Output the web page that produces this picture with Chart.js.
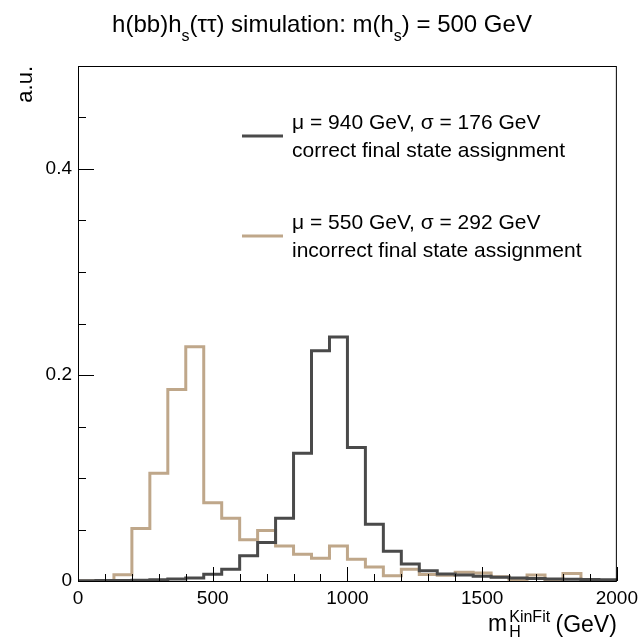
<!DOCTYPE html>
<html>
<head>
<meta charset="utf-8">
<script src="https://cdn.jsdelivr.net/npm/chart.js@4.4.1/dist/chart.umd.min.js"></script>
<style>
  html, body { margin: 0; padding: 0; background: #fff; }
  #wrap { width: 644px; height: 637px; }
</style>
</head>
<body>
<div id="wrap"><canvas id="histChart" width="644" height="637"></canvas></div>
<script>
// histogram binning: 30 bins from 0 to 2000 GeV
const xMin = 0;
const xMax = 2000;
const nBins = 30;

// bin contents (normalised, a.u.)
const correctValues = [
    0.0003, 0.0005, 0.0006, 0.0008, 0.0012, 0.002, 0.003, 0.0065, 0.0115, 0.0245,
    0.0375, 0.061, 0.124, 0.2236, 0.237, 0.1295, 0.055, 0.029, 0.0165, 0.010,
    0.0068, 0.0058, 0.0045, 0.0036, 0.003, 0.0025, 0.002, 0.0018, 0.0015, 0.0012
];
const incorrectValues = [
    0, 0, 0.006, 0.051, 0.1045, 0.186, 0.2275, 0.076, 0.061, 0.040,
    0.049, 0.034, 0.026, 0.022, 0.034, 0.021, 0.0135, 0.005, 0.0115, 0.0062,
    0.0055, 0.0084, 0.0078, 0.0042, 0.0005, 0.0058, 0.001, 0.0074, 0.0005, 0.0003
];

const correctLabel = ["\u03bc = 940 GeV, \u03c3 = 176 GeV", "correct final state assignment"];
const incorrectLabel = ["\u03bc = 550 GeV, \u03c3 = 292 GeV", "incorrect final state assignment"];

const xTickValues = [0, 500, 1000, 1500, 2000];
const xMinorStep = 100;
const yTickValues = [0, 0.2, 0.4];
const yMinorStep = 0.05;
const yMax = 0.5;

const FONT = "'Liberation Sans', Arial, Helvetica, sans-serif";

// turn bin contents into step points (left edges + closing right edge)
function toSteps(values) {
    const width = (xMax - xMin) / nBins;
    const pts = values.map((v, i) => ({ x: xMin + i * width, y: v }));
    pts.push({ x: xMax, y: values[values.length - 1] });
    return pts;
}

// draws frame, inside ticks, legend and rich text (sub/superscripts)
const rootStyle = {
    id: "rootStyle",
    afterDraw(chart) {
        const ctx = chart.ctx;
        const area = chart.chartArea;
        const xs = chart.scales.x;
        const ys = chart.scales.y;
        ctx.save();

        // frame
        ctx.strokeStyle = "#000";
        ctx.lineWidth = 1;
        ctx.strokeRect(area.left + 0.5, area.top + 0.5, area.right - area.left - 1, area.bottom - area.top);

        // ticks inside the frame
        ctx.beginPath();
        for (let v = xMin; v <= xMax + 1e-6; v += xMinorStep) {
            const px = Math.round(xs.getPixelForValue(v)) + 0.5;
            const len = xTickValues.includes(v) ? 14 : 7;
            ctx.moveTo(px, area.bottom);
            ctx.lineTo(px, area.bottom - len);
        }
        for (let k = 0; k * yMinorStep <= yMax + 1e-9; k++) {
            const v = k * yMinorStep;
            const py = Math.round(ys.getPixelForValue(v)) + 0.5;
            const major = yTickValues.some(t => Math.abs(t - v) < 1e-9);
            ctx.moveTo(area.left, py);
            ctx.lineTo(area.left + (major ? 16 : 8), py);
        }
        ctx.stroke();

        // legend
        ctx.fillStyle = "#000";
        ctx.font = "21px " + FONT;
        ctx.textBaseline = "alphabetic";
        ctx.textAlign = "left";
        const legendRows = [
            { ds: chart.data.datasets[0], y: 129 },
            { ds: chart.data.datasets[1], y: 229 }
        ];
        legendRows.forEach(r => {
            ctx.strokeStyle = r.ds.borderColor;
            ctx.lineWidth = 3;
            ctx.beginPath();
            ctx.moveTo(242, r.y + 7);
            ctx.lineTo(283, r.y + 7);
            ctx.stroke();
            ctx.fillText(r.ds.label[0], 292, r.y);
            ctx.fillText(r.ds.label[1], 292, r.y + 28);
        });

        // title with subscripts
        const big = "24px " + FONT;
        const small = "16px " + FONT;
        const parts = [
            ["h(bb)h", 0], ["s", 1], ["(\u03c4\u03c4) simulation: m(h", 0], ["s", 1], [") = 500 GeV", 0]
        ];
        let total = 0;
        parts.forEach(p => { ctx.font = p[1] ? small : big; total += ctx.measureText(p[0]).width; });
        let x = 322 - total / 2;
        parts.forEach(p => {
            ctx.font = p[1] ? small : big;
            ctx.fillText(p[0], x, p[1] ? 41 : 32);
            x += ctx.measureText(p[0]).width;
        });

        // x axis title m_H^KinFit (GeV), right aligned
        const axBig = "23px " + FONT;
        const axSmall = "16px " + FONT;
        ctx.font = axBig;
        const wGeV = ctx.measureText(" (GeV)").width;
        const wM = ctx.measureText("m").width;
        ctx.font = axSmall;
        const wKin = ctx.measureText("KinFit").width;
        let ax = area.right - wGeV - wKin - wM - 1;
        ctx.font = axBig;
        ctx.fillText("m", ax, 631);
        ax += wM + 2;
        ctx.font = axSmall;
        ctx.fillText("KinFit", ax, 622);
        ctx.fillText("H", ax, 637);
        ax += wKin;
        ctx.font = axBig;
        ctx.fillText(" (GeV)", ax - 1, 632);

        // y axis title
        ctx.translate(32, area.top);
        ctx.rotate(-Math.PI / 2);
        ctx.textAlign = "right";
        ctx.font = "22px " + FONT;
        ctx.fillText("a.u.", 0, 0);

        ctx.restore();
    }
};

const chart = new Chart(document.getElementById("histChart"), {
    type: "line",
    data: {
        datasets: [
            {
                label: correctLabel,
                data: toSteps(correctValues),
                borderColor: "#4a4a4a",
                borderWidth: 3,
                stepped: "before",
                pointRadius: 0,
                fill: false
            },
            {
                label: incorrectLabel,
                data: toSteps(incorrectValues),
                borderColor: "#bfa78a",
                borderWidth: 3,
                stepped: "before",
                pointRadius: 0,
                fill: false
            }
        ]
    },
    options: {
        responsive: false,
        animation: false,
        layout: { padding: { left: 0, top: 66, right: 25, bottom: 0 } },
        plugins: {
            legend: { display: false },
            tooltip: { enabled: false }
        },
        scales: {
            x: {
                type: "linear",
                min: xMin,
                max: xMax,
                grid: { display: false, drawTicks: false },
                border: { display: false },
                afterBuildTicks: s => { s.ticks = xTickValues.map(v => ({ value: v })); },
                afterFit: s => { s.height = 56; },
                ticks: {
                    color: "#000",
                    font: { family: FONT, size: 19 },
                    padding: 6,
                    maxRotation: 0,
                    callback: v => String(v)
                }
            },
            y: {
                type: "linear",
                min: 0,
                max: yMax,
                grid: { display: false, drawTicks: false },
                border: { display: false },
                afterBuildTicks: s => { s.ticks = yTickValues.map(v => ({ value: v })); },
                afterFit: s => { s.width = 78; },
                ticks: {
                    color: "#000",
                    font: { family: FONT, size: 19 },
                    padding: 6,
                    callback: v => String(v)
                }
            }
        }
    },
    plugins: [rootStyle]
});
</script>
</body>
</html>
